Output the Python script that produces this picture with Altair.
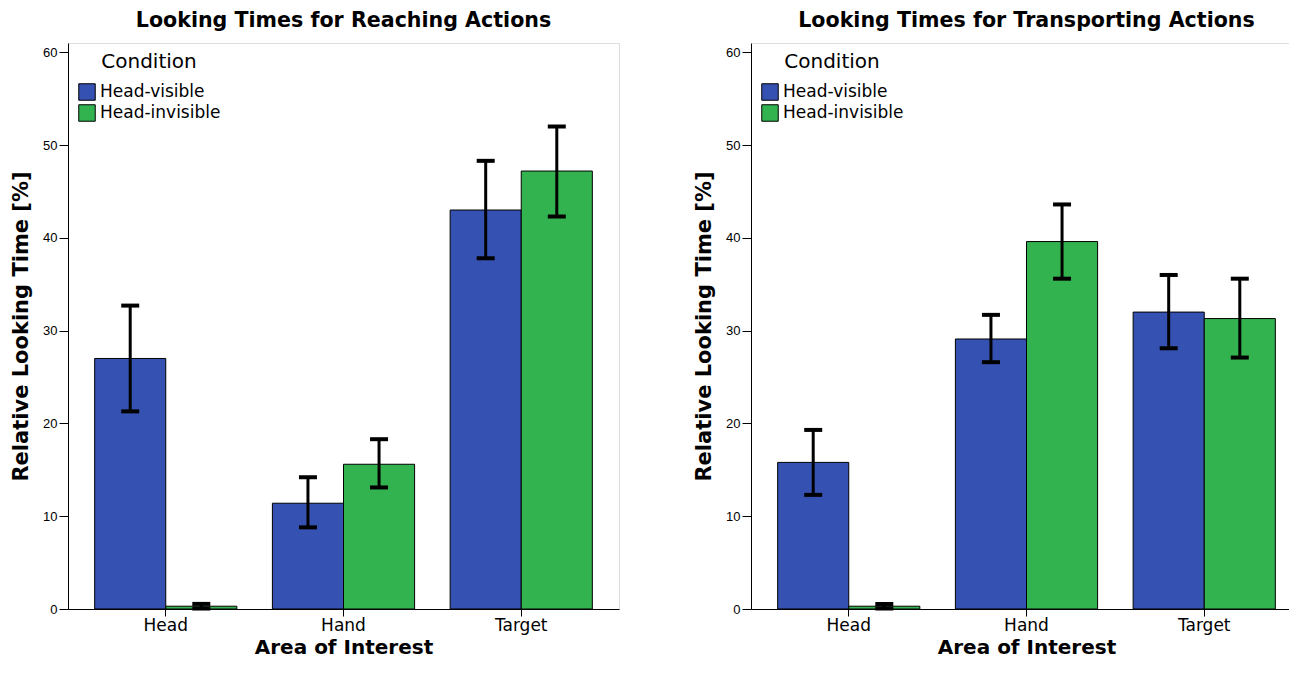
import altair as alt
import pandas as pd

areas = ["Head", "Hand", "Target"]
conditions = ["Head-visible", "Head-invisible"]
colors = ["#3551B2", "#33B34F"]

reach_visible = [27.0, 11.4, 43.0]
reach_visible_lo = [21.3, 8.8, 37.8]
reach_visible_hi = [32.7, 14.2, 48.3]
reach_invisible = [0.3, 15.6, 47.2]
reach_invisible_lo = [0.05, 13.1, 42.3]
reach_invisible_hi = [0.55, 18.3, 52.0]

transport_visible = [15.8, 29.1, 32.0]
transport_visible_lo = [12.3, 26.6, 28.1]
transport_visible_hi = [19.3, 31.7, 36.0]
transport_invisible = [0.3, 39.6, 31.3]
transport_invisible_lo = [0.05, 35.6, 27.1]
transport_invisible_hi = [0.55, 43.6, 35.6]

y_ticks = [0, 10, 20, 30, 40, 50, 60]


def make_df(vis, vis_lo, vis_hi, inv, inv_lo, inv_hi):
    rows = []
    for i, a in enumerate(areas):
        rows.append({"area": a, "cond": conditions[0], "mean": vis[i], "lo": vis_lo[i], "hi": vis_hi[i]})
        rows.append({"area": a, "cond": conditions[1], "mean": inv[i], "lo": inv_lo[i], "hi": inv_hi[i]})
    return pd.DataFrame(rows)


def panel(df, title, width):
    x = alt.X(
        "area:N",
        sort=areas,
        scale=alt.Scale(paddingInner=0.2, paddingOuter=0.15),
        axis=alt.Axis(
            title="Area of Interest",
            labelAngle=0,
            labelFont="DejaVu Sans",
            labelFontSize=17,
            labelColor="black",
            labelPadding=1.5,
            tickSize=7,
            tickColor="black",
            domainColor="black",
            titleFont="DejaVu Sans",
            titleFontSize=20,
            titleFontWeight="bold",
            titleColor="black",
            titlePadding=3.5,
        ),
    )
    xo = alt.XOffset("cond:N", sort=conditions, scale=alt.Scale(paddingInner=0, paddingOuter=0))
    yscale = alt.Scale(domain=[0, 61], nice=False)
    yaxis = alt.Axis(
        title="Relative Looking Time [%]",
        values=y_ticks,
        grid=False,
        labelFont="Liberation Sans",
        labelFontSize=13,
        labelColor="black",
        labelPadding=2,
        tickSize=9,
        tickColor="black",
        domainColor="black",
        titleFont="DejaVu Sans",
        titleFontSize=21,
        titleFontWeight="bold",
        titleColor="black",
        titlePadding=11,
    )
    bars = alt.Chart(df).mark_bar(stroke="black", strokeWidth=1).encode(
        x=x,
        xOffset=xo,
        y=alt.Y("mean:Q", scale=yscale, axis=yaxis),
        color=alt.Color(
            "cond:N",
            sort=conditions,
            scale=alt.Scale(domain=conditions, range=colors),
            legend=alt.Legend(
                title="Condition",
                orient="none",
                legendX=10,
                legendY=9,
                padding=0,
                titleFont="DejaVu Sans",
                titleFontSize=20,
                titleFontWeight="normal",
                titleColor="black",
                titleAnchor="middle",
                titlePadding=11,
                labelFont="DejaVu Sans",
                labelFontSize=17,
                labelColor="black",
                symbolType="square",
                symbolSize=272,
                symbolStrokeColor="black",
                symbolStrokeWidth=1,
                symbolOpacity=1,
                rowPadding=-1,
            ),
        ),
    )
    rules = alt.Chart(df).mark_rule(color="black", strokeWidth=3).encode(
        x=alt.X("area:N", sort=areas),
        xOffset=xo,
        y=alt.Y("lo:Q", scale=yscale),
        y2="hi:Q",
    )
    cap_lo = alt.Chart(df).mark_tick(color="black", thickness=4, size=18, opacity=1).encode(
        x=alt.X("area:N", sort=areas),
        xOffset=xo,
        y=alt.Y("lo:Q", scale=yscale),
    )
    cap_hi = alt.Chart(df).mark_tick(color="black", thickness=4, size=18, opacity=1).encode(
        x=alt.X("area:N", sort=areas),
        xOffset=xo,
        y=alt.Y("hi:Q", scale=yscale),
    )
    return alt.layer(bars, rules, cap_lo, cap_hi).properties(
        width=width,
        height=566,
        title=alt.TitleParams(
            text=title,
            font="DejaVu Sans",
            fontSize=20.6,
            fontWeight="bold",
            color="black",
            anchor="middle",
            offset=11,
        ),
    )


df_reach = make_df(reach_visible, reach_visible_lo, reach_visible_hi,
                   reach_invisible, reach_invisible_lo, reach_invisible_hi)
df_trans = make_df(transport_visible, transport_visible_lo, transport_visible_hi,
                   transport_invisible, transport_invisible_lo, transport_invisible_hi)

left = panel(df_reach, "Looking Times for Reaching Actions", 551)
right = panel(df_trans, "Looking Times for Transporting Actions", 551)

chart = (
    alt.hconcat(left, right, spacing=73)
    .resolve_scale(color="independent")
    .properties(padding={"left": 2, "top": 2, "right": -14, "bottom": 0})
    .configure_view(stroke="black", strokeWidth=1)
    .configure(background="white")
)

chart.save("out.html", embed_options={"renderer": "svg", "actions": False})
